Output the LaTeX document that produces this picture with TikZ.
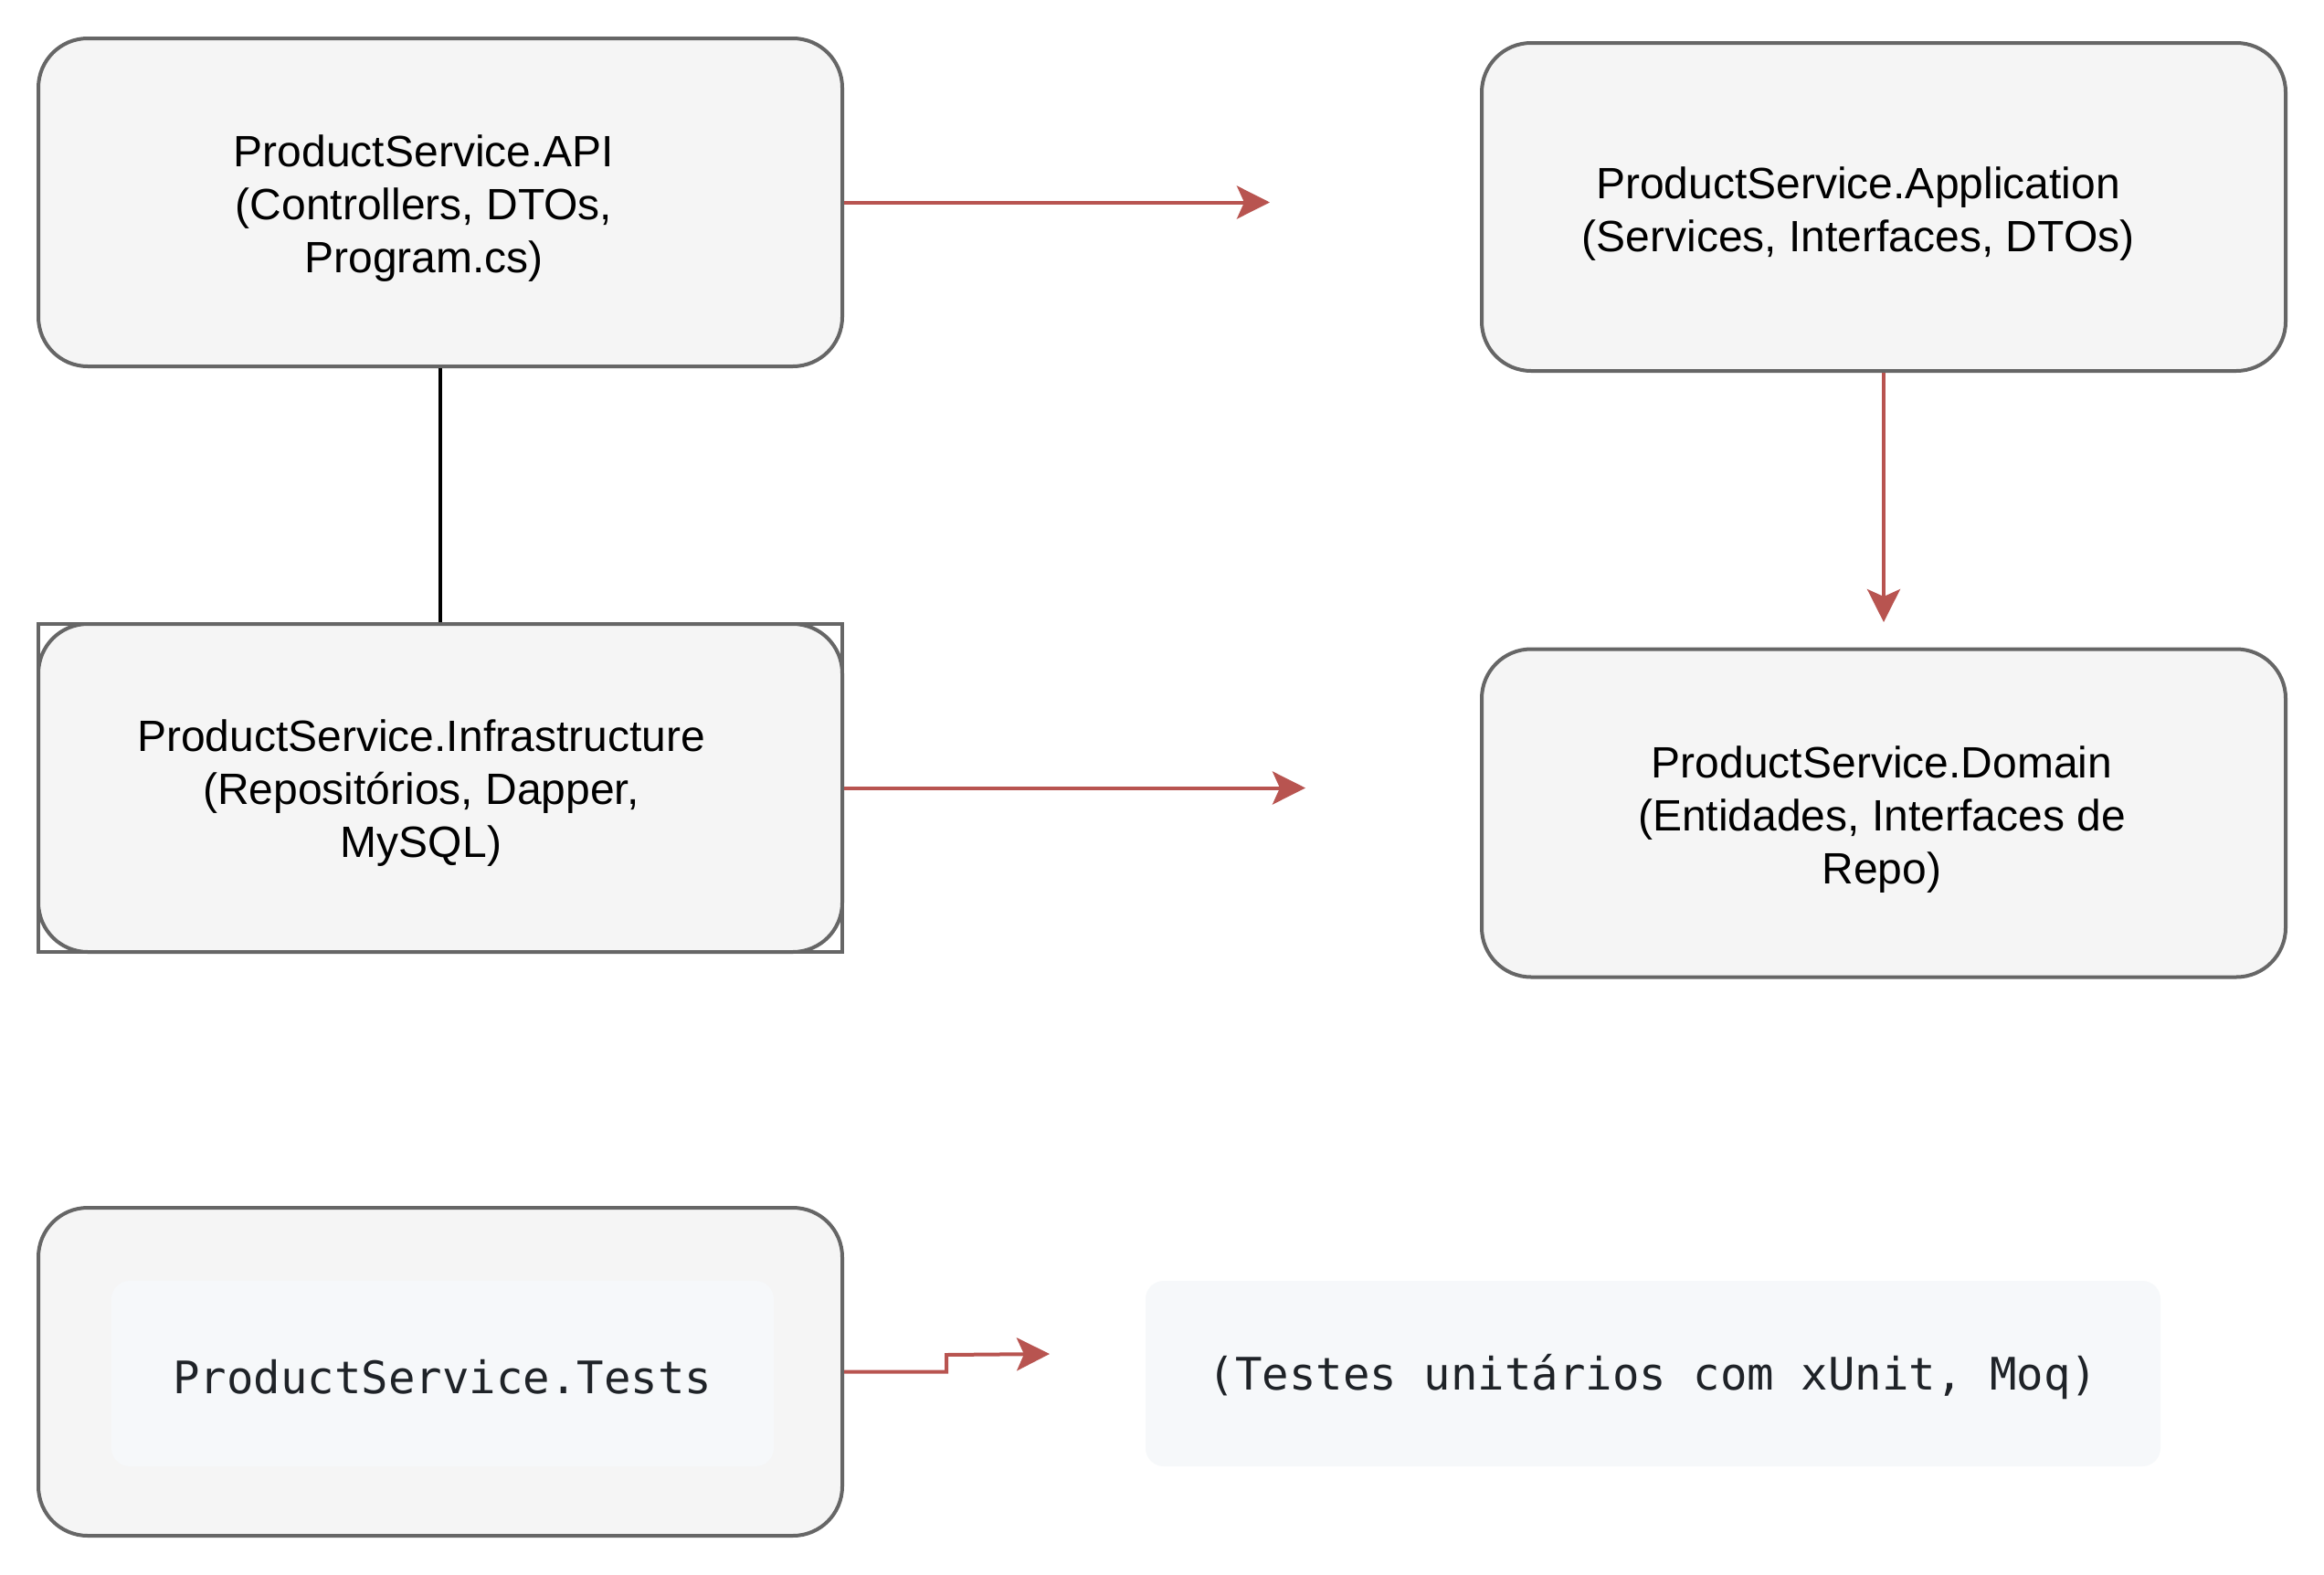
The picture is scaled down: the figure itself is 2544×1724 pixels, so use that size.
\documentclass[tikz,border=0pt]{standalone}
\usepackage{fontspec}
\setmainfont{Liberation Sans}
\setmonofont{DejaVu Sans Mono}
\usetikzlibrary{arrows.meta}
\definecolor{boxfill}{HTML}{F5F5F5}
\definecolor{boxdraw}{HTML}{666666}
\definecolor{arr}{HTML}{B85450}
\definecolor{codebg}{HTML}{F6F8FA}
\definecolor{codefg}{HTML}{1F2328}
\begin{document}
\begin{tikzpicture}[x=0.5pt,y=-0.5pt,
 layerbox/.style={draw=boxdraw, fill=boxfill, line width=2pt, rounded corners=27pt, minimum width=440pt, minimum height=179.5pt, inner sep=0pt},
 framebox/.style={draw=boxdraw, line width=2pt, minimum width=440pt, minimum height=179.5pt, inner sep=0pt},
 lbl/.style={align=center, font=\fontsize{24}{29}\selectfont, text=black, inner sep=0pt},
 codebox/.style={fill=codebg, rounded corners=10pt, minimum height=101.5pt, inner sep=0pt},
 codetxt/.style={font=\fontsize{24.5}{29}\selectfont\ttfamily, text=codefg, inner sep=0pt},
 dep/.style={draw=arr, line width=2pt, -{Stealth[length=18pt, width=18pt, inset=4pt]}},
 link/.style={draw=black, line width=2pt},
]
\useasboundingbox (0,0) rectangle (2544,1724);
\fill[white] (0,0) rectangle (2544,1724);

% boxes
\node[layerbox] (api) at (482,221.5) {};
\node[lbl] (apit) at (464,228) {ProductService.API\\(Controllers, DTOs,\\Program.cs)};

\node[layerbox] (app) at (2062,226.5) {};
\node[lbl] (appt) at (2034,234) {ProductService.Application\\(Services, Interfaces, DTOs)};

\node[layerbox] (infra) at (482,862.5) {};
\node[framebox] (infraframe) at (482,862.5) {};
\node[lbl] (infrat) at (461,868) {ProductService.Infrastructure\\(Repositórios, Dapper,\\MySQL)};

\node[layerbox] (dom) at (2062,890) {};
\node[lbl] (domt) at (2060,897) {ProductService.Domain\\(Entidades, Interfaces de\\Repo)};

\node[layerbox] (tests) at (482,1501.5) {};
\node[codebox, minimum width=362.5pt] (testsbg) at (484.5,1503.5) {};
\node[codetxt] (testst) at (484.5,1507) {ProductService.Tests};

\node[codebox, minimum width=555.5pt] (testesbg) at (1809.5,1503.5) {};
\node[codetxt] (testest) at (1809.5,1507) {(Testes unitários com xUnit, Moq)};

% free ends
\coordinate (apiend) at (1390,221.5);
\coordinate (append) at (2062,681);
\coordinate (infraend) at (1429,862.5);
\coordinate (teststep1) at (1036,1501.5);
\coordinate (teststep2) at (1036,1483);
\coordinate (testsend) at (1149,1482);

% connectors
\draw[link] (api.south) -- (infra.north);
\draw[dep] (api.east) -- (apiend);
\draw[dep] (app.south) -- (append);
\draw[dep] (infra.east) -- (infraend);
\draw[dep] (tests.east) -- (teststep1) -- (teststep2) -- (testsend);
\end{tikzpicture}
\end{document}
